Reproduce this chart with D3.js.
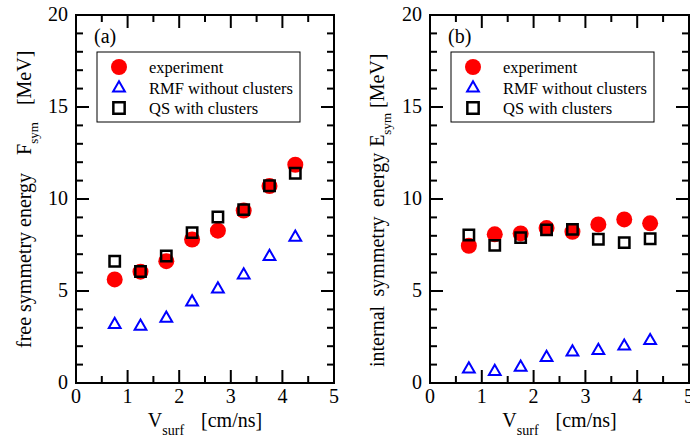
<!DOCTYPE html>
<html>
<head>
<meta charset="utf-8">
<script src="https://cdn.jsdelivr.net/npm/d3@7"></script>
<style>
  html, body { margin: 0; padding: 0; background: #fff; }
  svg { display: block; }
  svg text { font-family: "Liberation Serif", Tinos, "Times New Roman", Times, "DejaVu Serif", serif; }
</style>
</head>
<body>
<svg id="chart" width="690" height="437"></svg>
<script>
// Surface velocity bins [cm/ns]
const vsurf = [0.75, 1.25, 1.75, 2.25, 2.75, 3.25, 3.75, 4.25];

// (a) free symmetry energy F_sym [MeV]
const fsymExperiment = [5.63, 6.05, 6.62, 7.80, 8.28, 9.37, 10.70, 11.86];
const fsymRmf        = [3.18, 3.08, 3.52, 4.40, 5.10, 5.87, 6.87, 7.92];
const fsymQs         = [6.62, 6.06, 6.90, 8.17, 9.02, 9.42, 10.72, 11.40];

// (b) internal symmetry energy E_sym [MeV]
const esymExperiment = [7.46, 8.08, 8.13, 8.42, 8.22, 8.62, 8.89, 8.68];
const esymRmf        = [0.76, 0.62, 0.85, 1.38, 1.68, 1.76, 2.00, 2.30];
const esymQs         = [8.04, 7.48, 7.90, 8.32, 8.35, 7.81, 7.63, 7.84];

// Axis ticks
const xMajor = [0, 1, 2, 3, 4, 5];
const xMinor = [0.5, 1.5, 2.5, 3.5, 4.5];
const yMajor = [0, 5, 10, 15, 20];
const yMinor = [1, 2, 3, 4, 6, 7, 8, 9, 11, 12, 13, 14, 16, 17, 18, 19];

const legendLabels = ["experiment", "RMF without clusters", "QS with clusters"];
const panelTags = ["(a)", "(b)"];
const yTitles = ["free symmetry energy", "internal symmetry energy"];
const yQuantities = ["F", "E"];

const RED = "#ff0000", BLUE = "#0000ff";
const plotTop = 15, plotBottom = 383;

const svg = d3.select("#chart");

const panels = [
  { left: 76,  right: 334, exp: fsymExperiment, rmf: fsymRmf, qs: fsymQs,
    titleStart: 348, titleBase: 31, gap1: 18, gap2: 17, wordSpacing: 0 },
  { left: 430, right: 689, exp: esymExperiment, rmf: esymRmf, qs: esymQs,
    titleStart: 367, titleBase: 384, gap1: 6, gap2: 5, wordSpacing: 4.5 }
];

const circleR = 8;
const triangle = d3.symbol(d3.symbolTriangle, 60);
const square = d3.symbol(d3.symbolSquare, 108);
const legendSquare = d3.symbol(d3.symbolSquare, 128);

function styleAxis(sel) {
  sel.attr("font-family", null);
  sel.select(".domain").remove();
  sel.selectAll("line").attr("stroke", "#000").attr("stroke-width", 2);
  sel.selectAll("text")
    .attr("fill", "#000")
    .style("font-size", "20px");
}

panels.forEach((p, i) => {
  const x = d3.scaleLinear().domain([0, 5]).range([p.left, p.right]);
  const y = d3.scaleLinear().domain([0, 20]).range([plotBottom, plotTop]);
  const g = svg.append("g");

  // data markers: experiment, RMF, QS (drawn in that order)
  g.append("g").selectAll("circle")
    .data(vsurf.map((v, k) => [v, p.exp[k]]))
    .join("circle")
    .attr("cx", d => x(d[0])).attr("cy", d => y(d[1]))
    .attr("r", circleR).attr("fill", RED);

  g.append("g").selectAll("path")
    .data(vsurf.map((v, k) => [v, p.rmf[k]]))
    .join("path")
    .attr("d", triangle)
    .attr("transform", d => `translate(${x(d[0])},${y(d[1])})`)
    .attr("fill", "none").attr("stroke", BLUE).attr("stroke-width", 2);

  g.append("g").selectAll("path")
    .data(vsurf.map((v, k) => [v, p.qs[k]]))
    .join("path")
    .attr("d", square)
    .attr("transform", d => `translate(${x(d[0])},${y(d[1])})`)
    .attr("fill", "none").attr("stroke", "#000").attr("stroke-width", 2.5);

  // frame
  g.append("rect")
    .attr("x", p.left).attr("y", plotTop)
    .attr("width", p.right - p.left).attr("height", plotBottom - plotTop)
    .attr("fill", "none").attr("stroke", "#000").attr("stroke-width", 2);

  // inward ticks on all four sides
  const fmt = d3.format("d");
  g.append("g").attr("transform", `translate(0,${plotBottom})`)
    .call(d3.axisBottom(x).tickValues(xMajor).tickSize(-13).tickPadding(6).tickFormat(fmt).offset(0))
    .call(styleAxis);
  g.append("g").attr("transform", `translate(0,${plotBottom})`)
    .call(d3.axisBottom(x).tickValues(xMinor).tickSize(-7).tickFormat("").offset(0))
    .call(styleAxis);
  g.append("g").attr("transform", `translate(0,${plotTop})`)
    .call(d3.axisTop(x).tickValues(xMajor).tickSize(-13).tickFormat("").offset(0))
    .call(styleAxis);
  g.append("g").attr("transform", `translate(0,${plotTop})`)
    .call(d3.axisTop(x).tickValues(xMinor).tickSize(-7).tickFormat("").offset(0))
    .call(styleAxis);

  g.append("g").attr("transform", `translate(${p.left},0)`)
    .call(d3.axisLeft(y).tickValues(yMajor).tickSize(-13).tickPadding(8).tickFormat(fmt).offset(0))
    .call(styleAxis);
  g.append("g").attr("transform", `translate(${p.left},0)`)
    .call(d3.axisLeft(y).tickValues(yMinor).tickSize(-7).tickFormat("").offset(0))
    .call(styleAxis);
  g.append("g").attr("transform", `translate(${p.right},0)`)
    .call(d3.axisRight(y).tickValues(yMajor).tickSize(-13).tickFormat("").offset(0))
    .call(styleAxis);
  g.append("g").attr("transform", `translate(${p.right},0)`)
    .call(d3.axisRight(y).tickValues(yMinor).tickSize(-7).tickFormat("").offset(0))
    .call(styleAxis);

  // panel tag
  g.append("text")
    .attr("x", p.left + 18).attr("y", 43)
    .style("font-size", "20px")
    .text(panelTags[i]);

  // legend
  const lg = g.append("g").attr("transform", `translate(${p.left + 21},52)`);
  lg.append("rect").attr("width", 203).attr("height", 70)
    .attr("fill", "#fff").attr("stroke", "#000").attr("stroke-width", 1);
  const rows = [15, 36, 56];
  lg.append("circle").attr("cx", 22).attr("cy", rows[0]).attr("r", circleR).attr("fill", RED);
  lg.append("path").attr("d", triangle).attr("transform", `translate(22,${rows[1]})`)
    .attr("fill", "none").attr("stroke", BLUE).attr("stroke-width", 2);
  lg.append("path").attr("d", legendSquare).attr("transform", `translate(22,${rows[2]})`)
    .attr("fill", "none").attr("stroke", "#000").attr("stroke-width", 2.5);
  lg.selectAll("text.lab").data(legendLabels).join("text")
    .attr("class", "lab")
    .attr("x", 52).attr("y", (d, k) => rows[k] + 5.5)
    .style("font-size", "16.5px")
    .text(d => d);

  // x-axis title
  const xt = g.append("text")
    .attr("x", (p.left + p.right) / 2).attr("y", 427)
    .attr("text-anchor", "middle")
    .style("font-size", "20px");
  xt.append("tspan").text("V");
  xt.append("tspan").attr("dy", 8).style("font-size", "14px").text("surf");
  xt.append("tspan").attr("dy", -8).attr("dx", 17).text("[cm/ns]");

  // y-axis title (rotated)
  const yt = g.append("text")
    .attr("transform", "rotate(-90)")
    .attr("x", -p.titleStart).attr("y", p.titleBase)
    .attr("text-anchor", "start")
    .style("font-size", "20px");
  yt.append("tspan").style("word-spacing", p.wordSpacing + "px").text(yTitles[i]);
  yt.append("tspan").attr("dx", p.gap1).text(yQuantities[i]);
  yt.append("tspan").attr("dy", 7).style("font-size", "13px").text("sym");
  yt.append("tspan").attr("dy", -7).attr("dx", p.gap2).text("[MeV]");
});
</script>
</body>
</html>
